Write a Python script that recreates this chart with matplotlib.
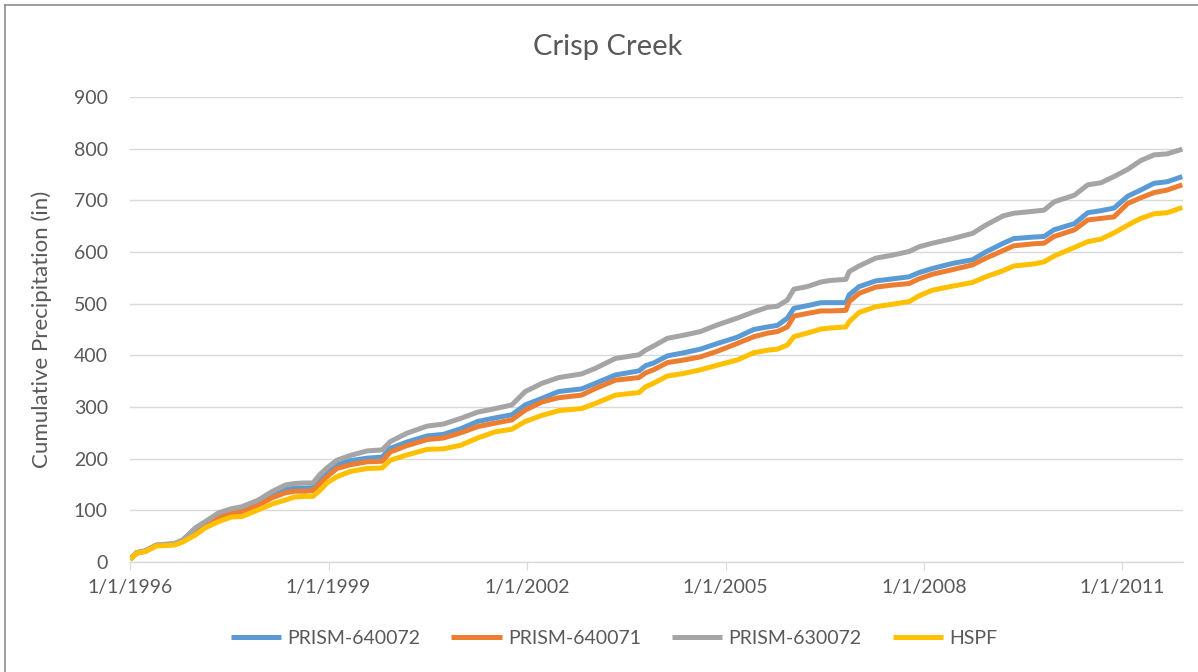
import pandas as pd
import matplotlib
matplotlib.use("Agg")
import matplotlib.pyplot as plt
from matplotlib.lines import Line2D

plt.rcParams['font.family'] = ['Lato', 'DejaVu Sans']

dates = ["1996-01-01", "1996-02-06", "1996-03-25", "1996-05-25", "1996-09-04", "1996-10-19",
         "1996-12-26", "1997-02-19", "1997-05-03", "1997-07-13", "1997-09-10", "1997-12-10",
         "1998-02-21", "1998-05-08", "1998-06-28", "1998-08-25", "1998-10-07", "1998-11-16",
         "1998-12-23", "1999-02-16", "1999-04-29", "1999-08-02", "1999-10-24", "1999-12-08",
         "2000-03-07", "2000-06-28", "2000-09-26", "2000-12-31", "2001-04-03", "2001-07-10",
         "2001-10-09", "2001-12-22", "2002-03-26", "2002-06-25", "2002-10-29", "2003-01-14",
         "2003-05-04", "2003-09-11", "2003-10-17", "2003-11-30", "2004-02-15", "2004-05-15",
         "2004-08-15", "2004-11-17", "2005-03-06", "2005-06-05", "2005-08-21", "2005-10-14",
         "2005-12-08", "2006-01-13", "2006-03-27", "2006-06-12", "2006-08-04", "2006-10-27",
         "2006-11-14", "2007-01-08", "2007-04-09", "2007-07-12", "2007-10-11", "2007-12-04",
         "2008-02-16", "2008-06-08", "2008-09-25", "2008-12-07", "2009-03-14", "2009-05-11",
         "2009-09-01", "2009-10-25", "2009-12-19", "2010-04-11", "2010-06-23", "2010-09-04",
         "2010-11-15", "2011-01-30", "2011-04-12", "2011-06-24", "2011-09-05", "2011-11-27"]

prism_640072 = [5, 18, 21, 32, 35, 41, 60, 74, 89, 97, 101, 113,
                128, 140, 143, 143, 144, 160, 172, 188, 196, 201, 203, 220,
                232, 244, 247, 258, 272, 279, 285, 304, 317, 330, 335, 346,
                362, 370, 380, 385, 399, 405, 412, 423, 435, 450, 455, 458,
                472, 491, 496, 502, 502, 502, 517, 533, 544, 548, 552, 560,
                568, 578, 585, 600, 617, 626, 629, 630, 643, 655, 676, 680,
                685, 708, 720, 733, 736, 746]

prism_640071 = [5, 17, 21, 32, 34, 40, 58, 72, 86, 94, 97, 110,
                124, 134, 137, 137, 138, 152, 165, 181, 188, 194, 195, 213,
                225, 237, 240, 250, 262, 269, 275, 294, 310, 318, 323, 336,
                352, 357, 366, 372, 386, 391, 397, 408, 423, 436, 443, 446,
                455, 476, 481, 486, 486, 487, 504, 520, 532, 536, 539, 548,
                557, 566, 575, 588, 603, 612, 616, 617, 630, 643, 662, 665,
                668, 694, 705, 715, 720, 730]

prism_630072 = [5, 18, 22, 33, 36, 43, 66, 78, 95, 103, 107, 120,
                136, 149, 152, 153, 153, 170, 182, 197, 206, 215, 217, 233,
                249, 263, 267, 278, 290, 297, 304, 330, 346, 357, 364, 375,
                394, 401, 410, 418, 433, 439, 446, 459, 472, 484, 493, 495,
                507, 528, 533, 542, 545, 547, 562, 573, 588, 594, 601, 610,
                617, 626, 636, 652, 670, 675, 679, 681, 697, 710, 730, 734,
                746, 760, 777, 788, 790, 799]

hspf = [5, 17, 20, 31, 33, 39, 52, 66, 78, 87, 88, 101,
        112, 120, 126, 127, 127, 139, 153, 165, 175, 181, 182, 197,
        207, 218, 219, 226, 240, 252, 257, 272, 284, 293, 297, 307,
        323, 328, 339, 346, 360, 365, 372, 381, 391, 405, 410, 412,
        420, 436, 443, 451, 453, 455, 465, 483, 494, 499, 504, 515,
        526, 534, 541, 552, 564, 573, 577, 581, 592, 609, 620, 625,
        637, 652, 665, 674, 676, 686]

series = [("PRISM-640072", prism_640072, "#5B9BD5"),
          ("PRISM-640071", prism_640071, "#ED7D31"),
          ("PRISM-630072", prism_630072, "#A5A5A5"),
          ("HSPF", hspf, "#FFC000")]

tick_dates = ["1996-01-01", "1999-01-01", "2002-01-01", "2005-01-01", "2008-01-01", "2011-01-01"]
tick_labels = ["1/1/1996", "1/1/1999", "1/1/2002", "1/1/2005", "1/1/2008", "1/1/2011"]

txt = "#595959"
x = pd.to_datetime(dates)

fig = plt.figure(figsize=(11.98, 6.72), dpi=100)
ax = fig.add_axes([130 / 1198, 1 - 562 / 672, 1053 / 1198, 465 / 672])

for name, vals, col in series:
    ax.plot(x, vals, color=col, lw=3.6, label=name, solid_capstyle="butt")

ax.set_xlim(pd.Timestamp("1996-01-01"), pd.Timestamp("2011-12-01"))
ax.set_ylim(0, 900)
ax.set_yticks(range(0, 901, 100))
ax.yaxis.grid(True, color="#d9d9d9", lw=1)
ax.set_axisbelow(True)
for s in ["top", "right", "left"]:
    ax.spines[s].set_visible(False)
ax.spines["bottom"].set_color("#d9d9d9")
ax.spines["bottom"].set_linewidth(1)

ax.set_xticks(pd.to_datetime(tick_dates))
ax.set_xticklabels(tick_labels)
ax.tick_params(axis="x", colors="#d9d9d9", labelcolor=txt, labelsize=14, length=6, pad=6)
ax.tick_params(axis="y", length=0, labelcolor=txt, labelsize=14, pad=16)

ax.set_ylabel("Cumulative Precipitation (in)", color=txt, fontsize=16)
ax.yaxis.set_label_coords(-78 / 1053, 0.5)

fig.text(608 / 1198, 1 - 47 / 672, "Crisp Creek", ha="center", va="center", fontsize=21, color=txt)

fig.legend(loc="center", bbox_to_anchor=(614 / 1198, 1 - 638 / 672), ncol=4, frameon=False,
           fontsize=14, handlelength=2.6, handletextpad=0.3, columnspacing=1.6, labelcolor=txt)

# chart border (left and top edges only show in the crop)
fig.add_artist(Line2D([5 / 1198, 5 / 1198], [0, 1 - 5 / 672], color="#8c8c8c", lw=1.2))
fig.add_artist(Line2D([5 / 1198, 1], [1 - 5 / 672, 1 - 5 / 672], color="#8c8c8c", lw=1.2))

fig.savefig("out.png", dpi=100)
